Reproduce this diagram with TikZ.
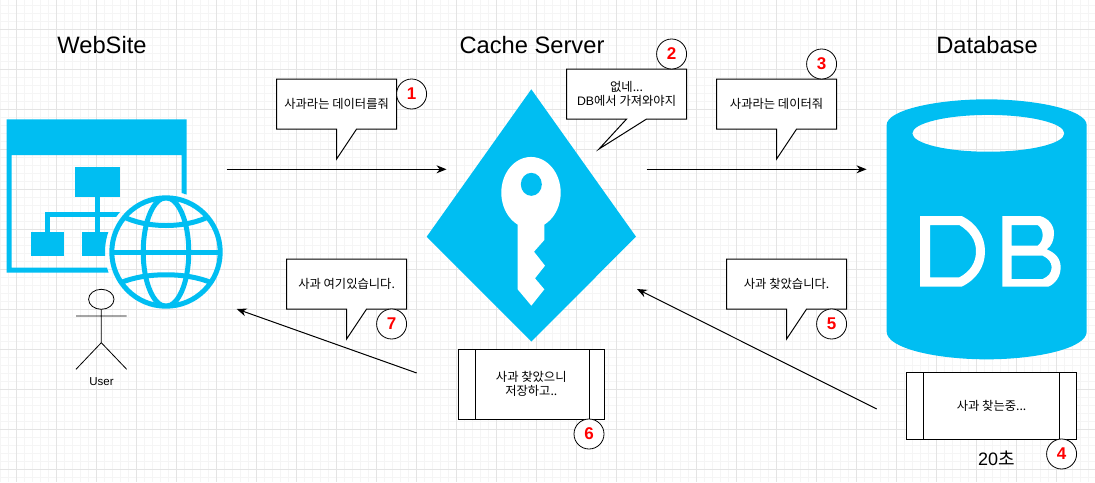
\documentclass[tikz,border=0pt]{standalone}
\usepackage{fontspec}
\setmainfont{Liberation Sans}
\newfontfamily\cjk{Noto Sans CJK KR}
\usetikzlibrary{arrows.meta}
\definecolor{azure}{HTML}{00BEF2}
\definecolor{gridmajor}{HTML}{E4E4E4}
\definecolor{gridminor}{HTML}{F5F5F5}
\tikzset{
  ink/.style={draw=black,line width=1pt},
  arrowline/.style={draw=black,line width=1pt,-{Stealth[length=10pt,width=8pt]}},
  title/.style={font=\fontsize{23.7}{27}\selectfont,text=black},
  msg/.style={font=\cjk\fontsize{12.3}{14.5}\selectfont,align=center,text=black,inner sep=0pt},
  badge/.style={circle,draw=black,line width=0.8pt,fill=white,minimum size=30pt,inner sep=0pt,
    font=\bfseries\fontsize{17}{20}\selectfont,text=red},
  procbox/.style={draw=black,line width=1pt,fill=white,inner sep=0pt},
  zoomA/.style={shift={(#1)},x=0.33333pt,y=-0.33333pt},
}
\newcommand{\callout}[9]{% name x0 y0 x1 y1 tailA tipx tipy tailB
  \draw[ink,fill=white,line join=miter] (#2,#3) -- (#4,#3) -- (#4,#5) -- (#9,#5) -- (#7,#8) -- (#6,#5) -- (#2,#5) -- cycle;
  \coordinate (#1) at ({(#2+#4)/2},{(#3+#5)/2});
}
\begin{document}
\begin{tikzpicture}[x=1pt,y=-1pt]
\useasboundingbox (0,0) rectangle (1095,482);
\fill[white] (0,0) rectangle (1095,482);
% grid
\foreach \k in {0,...,136}{\draw[gridminor,line width=0.8pt] ({0.67+8*\k},0) -- ({0.67+8*\k},482);}
\foreach \k in {0,...,60}{\draw[gridminor,line width=0.8pt] (0,{5+8*\k}) -- (1095,{5+8*\k});}
\foreach \k in {0,...,27}{\draw[gridmajor,line width=0.9pt] ({16.67+40*\k},0) -- ({16.67+40*\k},482);}
\foreach \k in {0,...,11}{\draw[gridmajor,line width=0.9pt] (0,{29+40*\k}) -- (1095,{29+40*\k});}

% titles
\node[title] (tweb) at (102,45) {WebSite};
\node[title] (tcache) at (532,45) {Cache Server};
\node[title] (tdb) at (987,45) {Database};

% website icon
\begin{scope}[even odd rule]
  \clip (0,100) rectangle (240,320) (166,252) circle [radius=61pt];
  \begin{scope}[zoomA={0pt,-100pt}]
    \fill[azure,even odd rule] (20,58) rectangle (560,518) (35,165) rectangle (545,503);
    \fill[azure] (226,202) rectangle (360,292);
    \fill[azure] (285,292) rectangle (300,395);
    \fill[azure] (135,335) rectangle (360,350);
    \fill[azure] (135,335) rectangle (150,395);
    \fill[azure] (93,395) rectangle (193,468);
    \fill[azure] (245,395) rectangle (345,468);
  \end{scope}
\end{scope}
\begin{scope}
  \draw[azure,line width=5pt] (166,252) circle [radius=54.2pt];
  \clip (166,252) circle [radius=54.2pt];
  \draw[azure,line width=5pt] (166,252) ellipse [x radius=22.8pt,y radius=54.2pt];
  \draw[azure,line width=5pt] (110,252) -- (222,252);
  \draw[azure,line width=5pt] (120,215) .. controls (145,229) and (187,229) .. (212,215);
  \draw[azure,line width=5pt] (120,283) .. controls (145,272) and (187,272) .. (212,283);
\end{scope}

% user
\draw[black,line width=0.8pt] (101.3,299.3) ellipse [x radius=12.7pt,y radius=10pt];
\draw[black,line width=0.8pt] (76,316) -- (126.7,316)
  (101.3,309.3) -- (101.3,342.7) -- (76,369.3)
  (101.3,342.7) -- (126.7,369.3);
\node[font=\fontsize{11.5}{14}\selectfont,text=black,inner sep=0pt] (userlabel) at (101.5,382) {User};

% key diamond
\fill[azure] (531.3,89.3) -- (636,236.7) -- (531.3,341.5) -- (426.7,236.7) -- cycle;
\begin{scope}[zoomA={420pt,-60pt}]
  \fill[white] (293,470) -- (293,688) -- (334,737) -- (373,688) -- (345,655) -- (375,617)
     -- (342,575) -- (373,540) -- (373,470) -- cycle;
  \fill[white] (333,398) ellipse [x radius=29.7pt,y radius=35.7pt];
  \fill[azure] (334,373) ellipse [x radius=10.5pt,y radius=11.5pt];
\end{scope}

% database
\begin{scope}[zoomA={870pt,-90pt}]
  \fill[azure,even odd rule]
    (50,105) .. controls (50,60) and (200,28) .. (350,28) .. controls (500,28) and (650,60) .. (650,105)
    -- (650,725) .. controls (650,775) and (500,808) .. (350,808) .. controls (200,808) and (50,775) .. (50,725) -- cycle
    (355,130) ellipse [x radius=76pt,y radius=18.4pt];
  \fill[white,even odd rule]
    (150,378) -- (275,378) .. controls (320,400) and (345,440) .. (345,484) .. controls (345,530) and (320,568) .. (275,590) -- (150,590) -- cycle
    (180,405) -- (268,405) .. controls (300,425) and (318,450) .. (318,484) .. controls (318,518) and (300,545) .. (268,562) -- (180,562) -- cycle;
  \fill[white,even odd rule]
    (397,378) -- (510,378) .. controls (535,385) and (552,405) .. (552,430) .. controls (552,450) and (545,468) .. (530,478)
    .. controls (555,488) and (572,505) .. (572,532) .. controls (572,560) and (555,582) .. (535,590) -- (397,590) -- cycle
    (425,405) -- (503,405) .. controls (513,412) and (518,422) .. (518,435) .. controls (518,448) and (513,460) .. (503,467) -- (425,467) -- cycle
    (425,497) -- (518,497) .. controls (535,505) and (545,517) .. (545,532) .. controls (545,548) and (535,560) .. (518,567) -- (425,567) -- cycle;
\end{scope}

% connectors
\coordinate (a1s) at (226.7,169.3); \coordinate (a1e) at (446.5,169.3);
\coordinate (a2s) at (646.7,169.3); \coordinate (a2e) at (866.5,169.3);
\coordinate (a3s) at (876.7,409);   \coordinate (a3e) at (637,289);
\coordinate (a4s) at (416.7,373);   \coordinate (a4e) at (236.7,309);
\draw[arrowline] (a1s) -- (a1e);
\draw[arrowline] (a2s) -- (a2e);
\draw[arrowline] (a3s) -- (a3e);
\draw[arrowline] (a4s) -- (a4e);

% callouts
\callout{c1}{276.6}{79}{396.6}{129}{336.6}{336.6}{159}{356.6}
\node[msg] (m1) at (336.6,104) {사과라는 데이터를줘};
\callout{c2}{566.6}{69}{686.6}{119}{626.6}{599}{149}{646.6}
\node[msg] (m2) at (626.6,94) {없네...\\{\fontspec{Liberation Sans}DB}에서 가져와야지};
\callout{c3}{716.6}{79}{836.6}{129}{776.6}{776.6}{159}{796.6}
\node[msg] (m3) at (c3) {사과라는 데이터줘};
\callout{c5}{726.6}{259}{846.6}{309}{786.6}{786.6}{339}{806.6}
\node[msg] (m5) at (c5) {사과 찾았습니다.};
\callout{c7}{286.6}{259}{406.6}{309}{346.6}{346.6}{339}{366.6}
\node[msg] (m7) at (c7) {사과 여기있습니다.};

% process boxes
\node[procbox,minimum width=146pt,minimum height=70pt] (p6) at (531.3,384) {};
\draw[ink] (475,349) -- (475,419) (589,349) -- (589,419);
\node[msg] (m6) at (p6) {사과 찾았으니\\저장하고..};
\node[procbox,minimum width=170pt,minimum height=67pt] (p4) at (991.6,406) {};
\draw[ink] (923.3,372.5) -- (923.3,439.5) (1059.3,372.5) -- (1059.3,439.5);
\node[msg] (m4) at (p4) {사과 찾는중...};
\node[font=\fontsize{18}{20}\selectfont,text=black,inner sep=0pt] (t20) at (996.5,458) {20{\cjk 초}};

% badges
\node[badge] (b1) at (411.6,94) {1};
\node[badge] (b2) at (671.6,54) {2};
\node[badge] (b3) at (821.6,64) {3};
\node[badge] (b4) at (1061.6,454) {4};
\node[badge] (b5) at (831.6,324) {5};
\node[badge] (b6) at (589,434) {6};
\node[badge] (b7) at (391.6,324) {7};
\end{tikzpicture}
\end{document}
